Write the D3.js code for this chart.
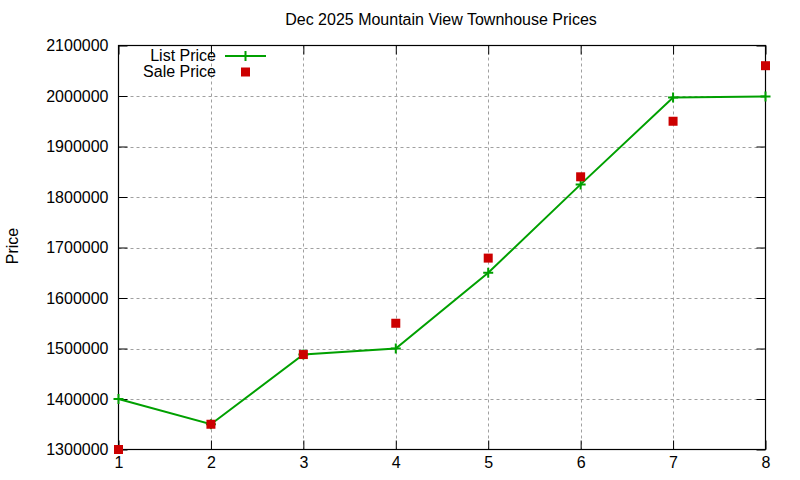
<!DOCTYPE html>
<html>
<head>
<meta charset="utf-8">
<script src="https://cdn.jsdelivr.net/npm/d3@7"></script>
<style>
  body { margin: 0; background: #fff; }
  text { font-family: "Liberation Sans", Arial, sans-serif; fill: #000; }
</style>
</head>
<body>
<svg id="chart" width="800" height="480"></svg>
<script>
// data
const months = [1, 2, 3, 4, 5, 6, 7, 8];
const listPrice = [1400000, 1350000, 1488000, 1500000, 1650000, 1825000, 1997000, 1999000];
const salePrice = [1300000, 1350000, 1488000, 1550000, 1679000, 1840000, 1950000, 2060000];
const yTicks = [1300000, 1400000, 1500000, 1600000, 1700000, 1800000, 1900000, 2000000, 2100000];

const svg = d3.select("#chart");
const pLeft = 118.5, pRight = 765.5, pTop = 45.5, pBottom = 449.5;

const x = d3.scaleLinear().domain([1, 8]).range([pLeft, pRight]);
const y = d3.scaleLinear().domain([1300000, 2100000]).range([pBottom, pTop]);

// grid
const grid = svg.append("g")
  .attr("stroke", "#a0a0a0")
  .attr("stroke-width", 1)
  .attr("stroke-dasharray", "3,3");
grid.selectAll("line.gy").data(yTicks.slice(1, -1)).enter()
  .append("line")
  .attr("x1", pLeft).attr("x2", pRight)
  .attr("y1", (d) => Math.round(y(d)) + 0.5)
  .attr("y2", (d) => Math.round(y(d)) + 0.5);
grid.selectAll("line.gx").data(months.slice(1, -1)).enter()
  .append("line")
  .attr("y1", pTop).attr("y2", pBottom)
  .attr("x1", (d) => Math.round(x(d)) + 0.5)
  .attr("x2", (d) => Math.round(x(d)) + 0.5);

// axes with inward ticks, mirrored on top/right
const tick = 9;
const yAxisL = d3.axisLeft(y).tickValues(yTicks).tickSize(-tick).tickPadding(10).tickFormat(d3.format("d"));
const yAxisR = d3.axisRight(y).tickValues(yTicks).tickSize(-tick).tickFormat("");
const xAxisB = d3.axisBottom(x).tickValues(months).tickSize(-tick).tickPadding(7).tickFormat(d3.format("d"));
const xAxisT = d3.axisTop(x).tickValues(months).tickSize(-tick).tickFormat("");

function styleAxis(g) {
  g.select(".domain").remove();
  g.selectAll(".tick line").attr("stroke", "#000");
  g.selectAll(".tick text")
    .style("font-family", "'Liberation Sans', Arial, sans-serif")
    .style("font-size", "16px")
    .attr("fill", "#000");
}
svg.append("g").attr("transform", `translate(${pLeft},0)`).call(yAxisL).call(styleAxis);
svg.append("g").attr("transform", `translate(${pRight},0)`).call(yAxisR).call(styleAxis);
svg.append("g").attr("transform", `translate(0,${pBottom})`).call(xAxisB).call(styleAxis);
svg.append("g").attr("transform", `translate(0,${pTop})`).call(xAxisT).call(styleAxis);

// border
svg.append("rect")
  .attr("x", pLeft).attr("y", pTop)
  .attr("width", pRight - pLeft).attr("height", pBottom - pTop)
  .attr("fill", "none").attr("stroke", "#000").attr("stroke-width", 1.2);

const listData = months.map((m, i) => ({ m: m, v: listPrice[i] }));
const saleData = months.map((m, i) => ({ m: m, v: salePrice[i] }));
const green = "#00a000", red = "#cc0000";

// list price line
svg.append("path")
  .datum(listData)
  .attr("fill", "none")
  .attr("stroke", green)
  .attr("stroke-width", 2)
  .attr("d", d3.line().x((d) => x(d.m)).y((d) => y(d.v)));

function drawPlus(g, cx, cy) {
  g.append("path")
    .attr("d", `M${cx - 5},${cy}H${cx + 5}M${cx},${cy - 5}V${cy + 5}`)
    .attr("stroke", green).attr("stroke-width", 2).attr("fill", "none");
}
const plusG = svg.append("g");
listData.forEach((d) => drawPlus(plusG, x(d.m), y(d.v)));

// sale price squares
svg.append("g").selectAll("rect").data(saleData).enter()
  .append("rect")
  .attr("x", (d) => x(d.m) - 4.5)
  .attr("y", (d) => y(d.v) - 4.5)
  .attr("width", 9).attr("height", 9)
  .attr("fill", red);

// legend
const legend = svg.append("g");
legend.append("text").attr("x", 216).attr("y", 61).attr("text-anchor", "end")
  .style("font-size", "16px").text("List Price");
legend.append("text").attr("x", 216).attr("y", 77).attr("text-anchor", "end")
  .style("font-size", "16px").text("Sale Price");
legend.append("line").attr("x1", 225).attr("x2", 266).attr("y1", 56).attr("y2", 56)
  .attr("stroke", green).attr("stroke-width", 2);
drawPlus(legend, 245.5, 56);
legend.append("rect").attr("x", 241).attr("y", 67.5).attr("width", 9).attr("height", 9).attr("fill", red);

// title and axis label
svg.append("text").attr("x", 441).attr("y", 25).attr("text-anchor", "middle")
  .style("font-size", "16px").text("Dec 2025 Mountain View Townhouse Prices");
svg.append("text")
  .attr("transform", "translate(18,246) rotate(-90)")
  .attr("text-anchor", "middle")
  .style("font-size", "16px").text("Price");
</script>
</body>
</html>
